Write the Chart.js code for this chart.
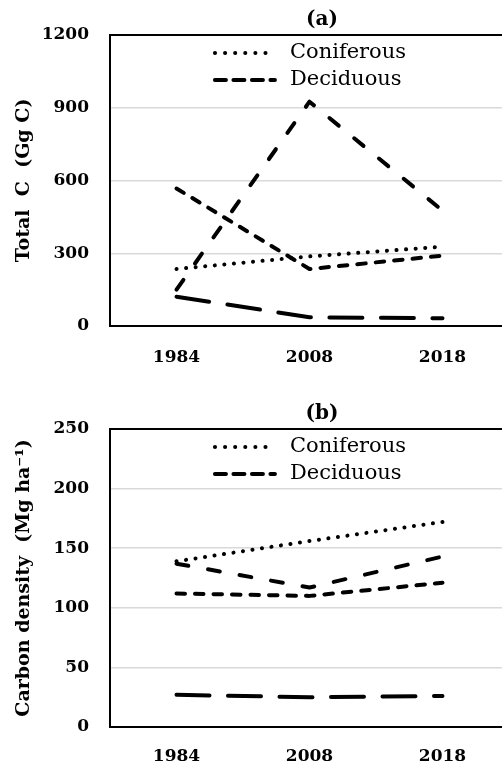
<!DOCTYPE html>
<html>
<head>
<meta charset="utf-8">
<script src="https://cdn.jsdelivr.net/npm/chart.js@4.4.1/dist/chart.umd.min.js"></script>
<style>
html, body { margin: 0; padding: 0; background: #fff; overflow: hidden; }
#wrap { position: relative; width: 502px; height: 770px; overflow: hidden; }
canvas { position: absolute; left: 0; }
</style>
</head>
<body>
<div id="wrap">
  <canvas id="chartA" width="644" height="385" style="top:0"></canvas>
  <canvas id="chartB" width="644" height="385" style="top:385px"></canvas>
</div>
<script>
// data
var years = ['1984', '2008', '2018'];

// (a) total C, Gg C
var totalConiferous = [235, 287, 327];
var totalDeciduous = [567, 235, 290];
var totalConiferous2 = [150, 925, 476];
var totalDeciduous2 = [121, 36, 32];
var totalTicks = [0, 300, 600, 900, 1200];

// (b) carbon density, Mg ha-1
var densConiferous = [139, 156, 172];
var densDeciduous = [112, 110, 121];
var densConiferous2 = [137, 117, 143];
var densDeciduous2 = [27, 25, 26];
var densTicks = [0, 50, 100, 150, 200, 250];

Chart.defaults.font.family = "'DejaVu Serif', serif";
Chart.defaults.color = '#000';

// box around the plot area
var framePlugin = {
  id: 'frame',
  beforeDatasetsDraw(chart) {
    var a = chart.chartArea, ctx = chart.ctx;
    ctx.save();
    ctx.strokeStyle = '#000';
    ctx.lineWidth = 2;
    ctx.strokeRect(a.left, a.top, a.right - a.left, a.bottom - a.top);
    ctx.restore();
  }
};

// legend drawn inside the plot, top centre
var lineLegend = {
  id: 'lineLegend',
  afterDatasetsDraw(chart) {
    var a = chart.chartArea, ctx = chart.ctx;
    var items = chart.data.datasets.filter((d) => d.inLegend);
    ctx.save();
    ctx.font = '21px "DejaVu Serif"';
    var textW = Math.max(...items.map((d) => ctx.measureText(d.label).width));
    var sample = 64, gap = 13;
    var x0 = (a.left + a.right) / 2 - (sample + gap + textW) / 2;
    items.forEach((d, i) => {
      var y = a.top + 18 + i * 27;
      ctx.beginPath();
      ctx.setLineDash(d.legendDash);
      ctx.lineCap = 'round';
      ctx.lineWidth = d.borderWidth;
      ctx.strokeStyle = d.borderColor;
      ctx.moveTo(x0 + 2, y);
      ctx.lineTo(x0 + sample - 2, y);
      ctx.stroke();
      ctx.setLineDash([]);
      ctx.fillStyle = '#000';
      ctx.textBaseline = 'middle';
      ctx.fillText(d.label, x0 + sample + gap, y);
    });
    ctx.restore();
  }
};

function makeSet(label, data, dash, width, inLegend, legendDash) {
  return {
    label: label,
    data: data,
    borderColor: '#000',
    borderWidth: width,
    borderDash: dash,
    borderCapStyle: 'round',
    borderJoinStyle: 'round',
    pointRadius: 0,
    tension: 0,
    fill: false,
    inLegend: inLegend,
    legendDash: legendDash
  };
}

function renderChart(id, title, titleTop, yTitle, ticks, xHeight, xPad, sets) {
  new Chart(document.getElementById(id), {
    type: 'line',
    data: {
      labels: years,
      datasets: [
        makeSet('Coniferous', sets[0], [0.1, 9.5], 4, true, [0.1, 10]),
        makeSet('Deciduous', sets[1], [8.5, 10], 4, true, [11, 7.5]),
        makeSet('Coniferous 2', sets[2], [12, 20], 4, false),
        makeSet('Deciduous 2', sets[3], [33, 18.5], 4, false)
      ]
    },
    options: {
      responsive: false,
      animation: false,
      devicePixelRatio: 1,
      layout: { padding: 0 },
      plugins: {
        legend: { display: false },
        tooltip: { enabled: false },
        title: {
          display: true,
          text: title,
          font: { size: 20, weight: 'bold' },
          color: '#000',
          padding: { top: titleTop, bottom: 3 }
        }
      },
      scales: {
        x: {
          offset: true,
          grid: { display: false, drawTicks: false },
          border: { display: false },
          ticks: { padding: xPad, font: { size: 17, weight: 'bold' }, color: '#000' },
          afterFit: (s) => { s.height = xHeight; }
        },
        y: {
          min: ticks[0],
          max: ticks[ticks.length - 1],
          ticks: {
            stepSize: ticks[1] - ticks[0],
            padding: 21,
            font: { size: 17, weight: 'bold' },
            color: '#000',
            callback: (v) => String(v)
          },
          grid: { color: '#d9d9d9', lineWidth: 1.5, drawTicks: false },
          border: { display: false },
          title: {
            display: true,
            text: yTitle,
            font: { size: 19, weight: 'bold' },
            color: '#000',
            padding: { top: 13, bottom: 0 }
          },
          afterFit: (s) => { s.width = 110; }
        },
        y2: {
          position: 'right',
          display: true,
          grid: { display: false, drawTicks: false },
          border: { display: false },
          ticks: { display: false },
          afterFit: (s) => { s.width = 135; }
        }
      }
    },
    plugins: [framePlugin, lineLegend]
  });
}

renderChart('chartA', '(a)', 8, 'Total  C  (Gg C)', totalTicks, 59, 21,
  [totalConiferous, totalDeciduous, totalConiferous2, totalDeciduous2]);
renderChart('chartB', '(b)', 17, 'Carbon density  (Mg ha\u207B\u00B9)', densTicks, 43, 19,
  [densConiferous, densDeciduous, densConiferous2, densDeciduous2]);
</script>
</body>
</html>
